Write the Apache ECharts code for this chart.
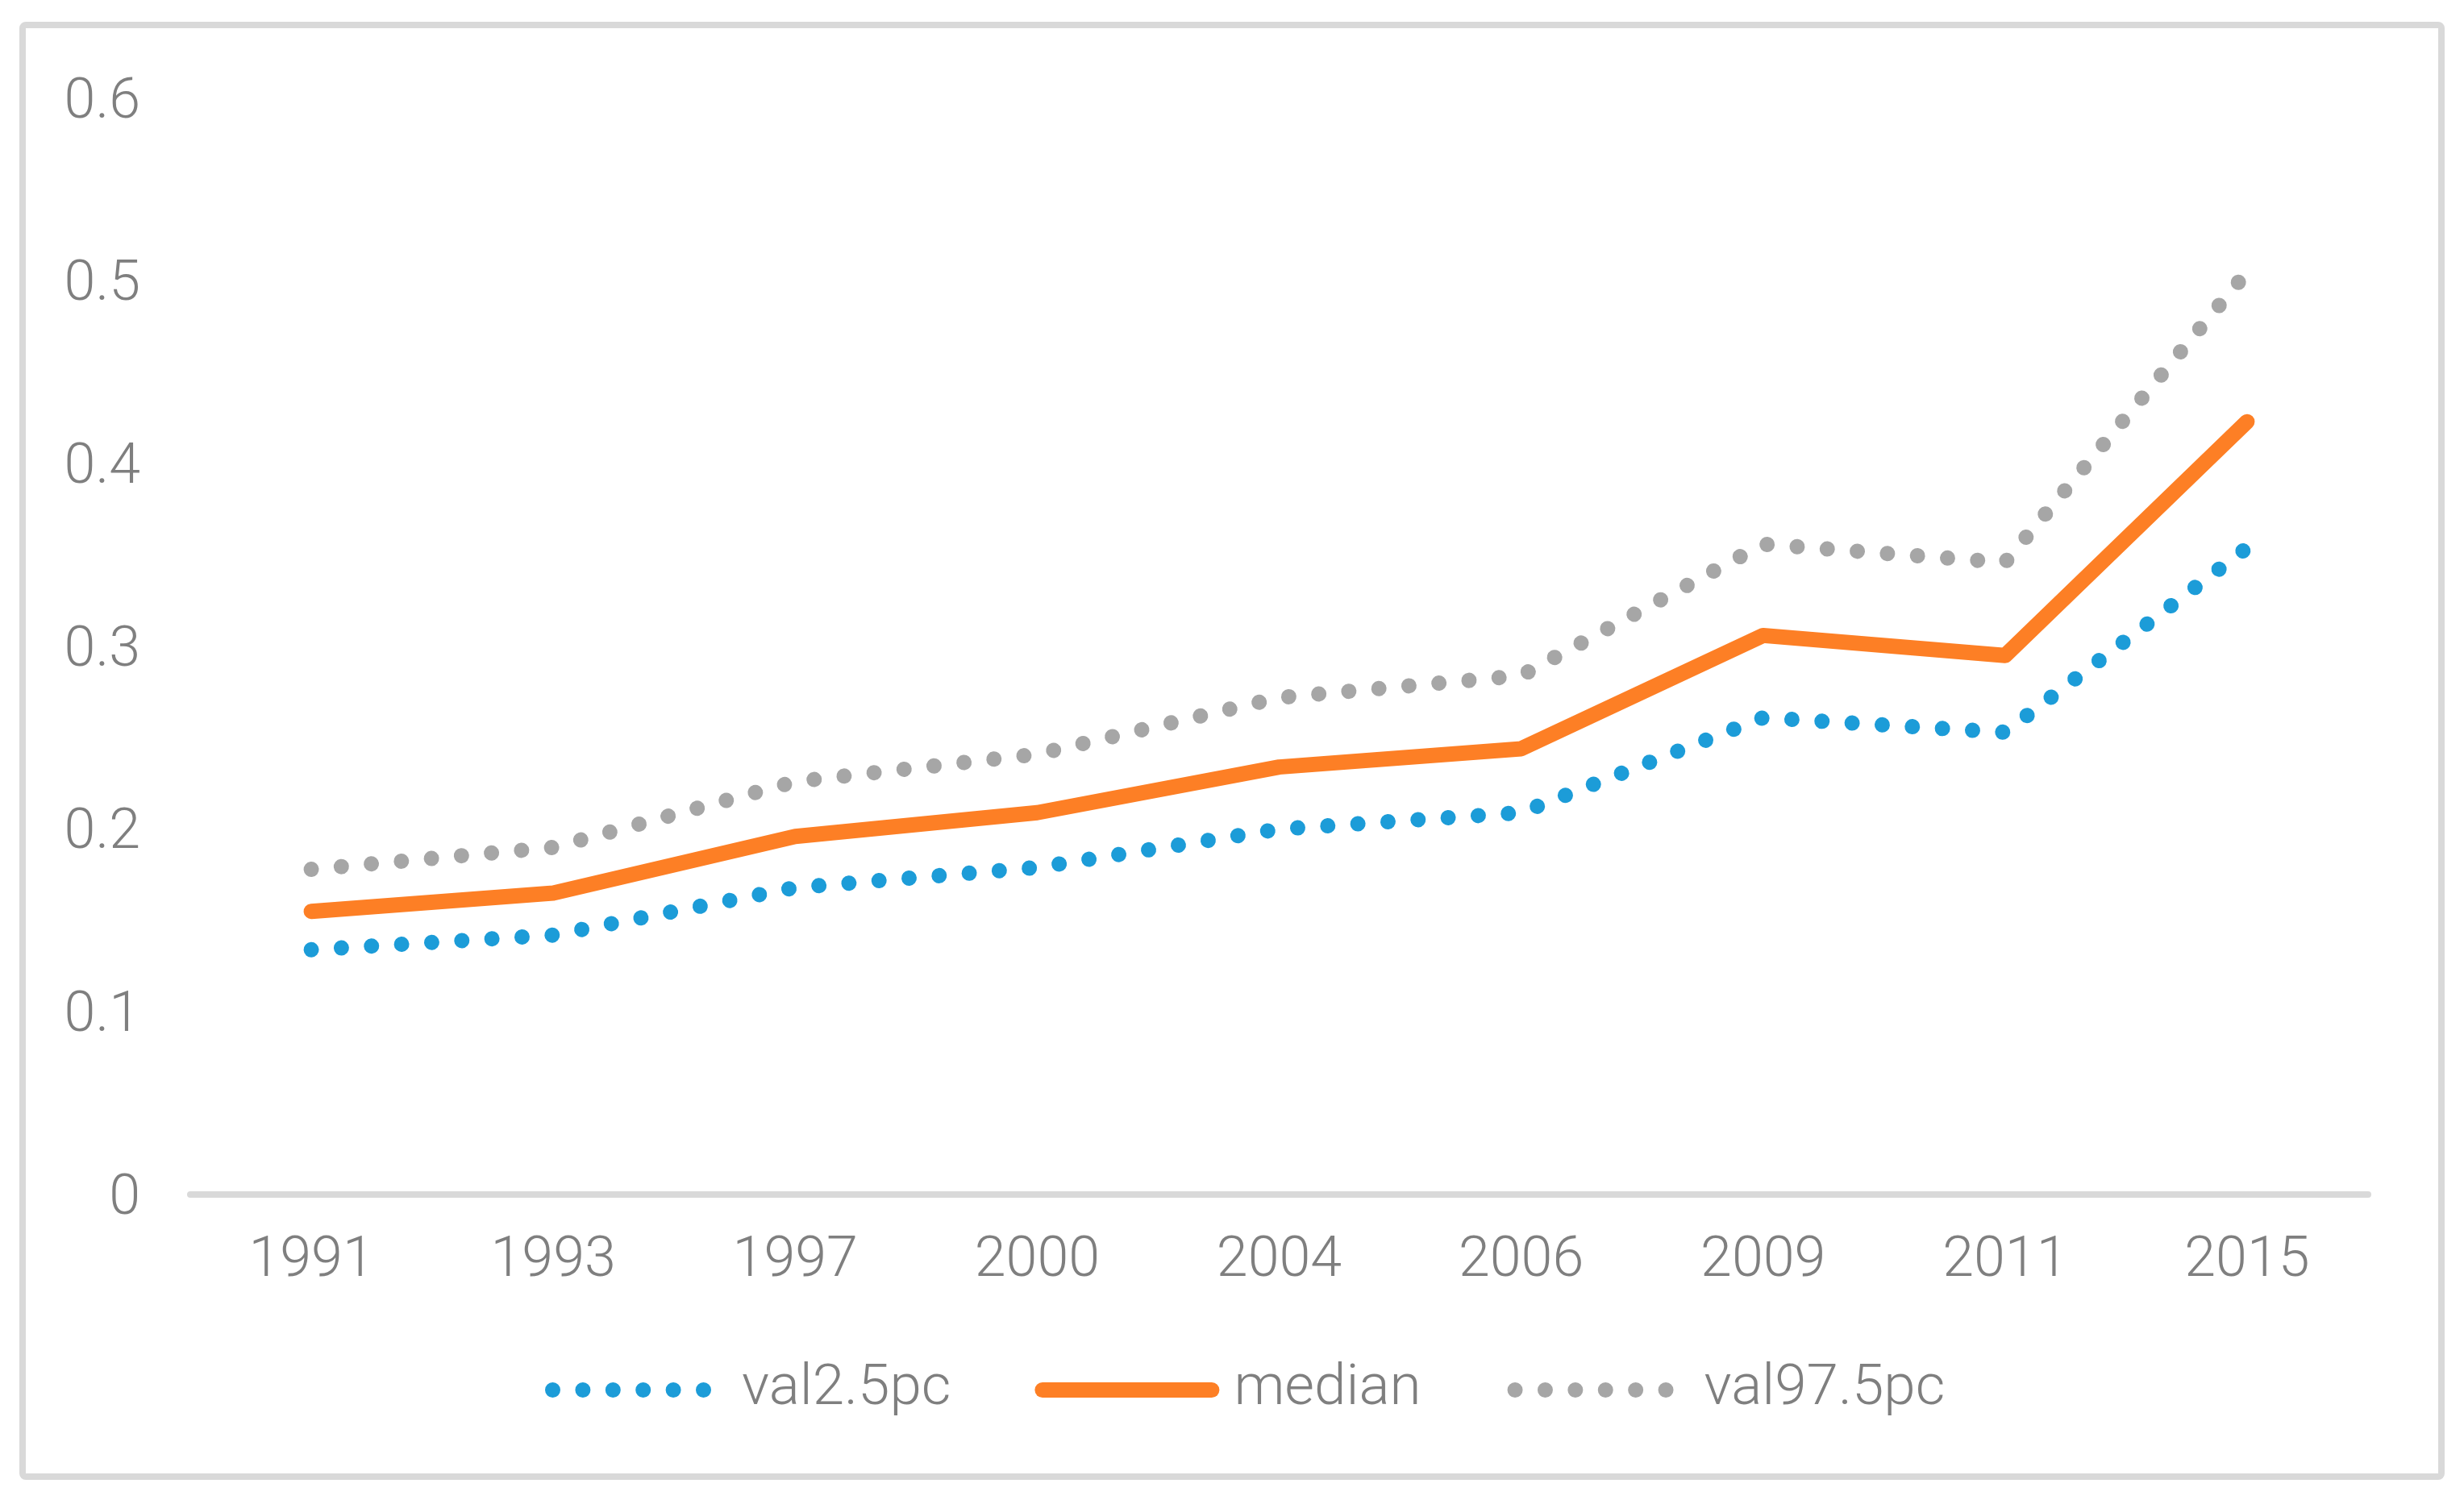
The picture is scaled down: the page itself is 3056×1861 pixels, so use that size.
<!DOCTYPE html>
<html>
<head>
<meta charset="utf-8">
<script src="https://cdn.jsdelivr.net/npm/echarts@6/dist/echarts.min.js"></script>
<style>
html,body{margin:0;padding:0;background:#fff;}
#chart{width:3056px;height:1861px;}
</style>
</head>
<body>
<div id="chart"></div>
<script>
var years = ['1991','1993','1997','2000','2004','2006','2009','2011','2015'];
var val25 = [0.134, 0.142, 0.168, 0.179, 0.200, 0.209, 0.261, 0.253, 0.354];
var median = [0.155, 0.165, 0.196, 0.209, 0.234, 0.244, 0.306, 0.295, 0.423];
var val975 = [0.178, 0.190, 0.226, 0.241, 0.272, 0.284, 0.356, 0.346, 0.505];
var yTicks = [0, 0.1, 0.2, 0.3, 0.4, 0.5, 0.6];

var FONT = 'Roboto';
var TXT = '#7f7f7f';
var WEIGHT = 300;

function dotsIcon() {
  var r = 9.5, p = 'path://M0 0 M242 19 ';
  for (var i = 0; i < 6; i++) {
    var cx = 12.5 + i * 37.4;
    p += 'M' + (cx - r) + ' 9.5 a' + r + ' ' + r + ' 0 1 0 ' + (2 * r) + ' 0 a' + r + ' ' + r + ' 0 1 0 ' + (-2 * r) + ' 0 Z ';
  }
  return p;
}
var barIcon = 'path://M0 0 M242 19 M9.5 0 L219.5 0 A9.5 9.5 0 0 1 219.5 19 L9.5 19 A9.5 9.5 0 0 1 9.5 0 Z';

var chart = echarts.init(document.getElementById('chart'));
chart.setOption({
  backgroundColor: '#fff',
  animation: false,
  graphic: [{
    type: 'rect',
    shape: {x: 28, y: 31, width: 3000, height: 1801, r: 4},
    style: {fill: 'none', stroke: '#d9d9d9', lineWidth: 8},
    silent: true
  }],
  grid: {left: 236, right: 119, top: 122, bottom: 379, containLabel: false},
  legend: {
    left: 673, top: 1689, padding: 0,
    itemWidth: 242, itemHeight: 19, itemGap: 104,
    itemStyle: {borderWidth: 0},
    textStyle: {fontFamily: FONT, fontWeight: WEIGHT, fontSize: 71, color: TXT},
    data: [
      {name: 'val2.5pc', icon: dotsIcon()},
      {name: 'median', icon: barIcon},
      {name: 'val97.5pc', icon: dotsIcon()}
    ]
  },
  xAxis: {
    type: 'category',
    data: years,
    boundaryGap: true,
    axisLine: {show: true, lineStyle: {color: '#d9d9d9', width: 8}},
    axisTick: {show: false},
    axisLabel: {interval: 0, margin: 48, fontFamily: FONT, fontWeight: WEIGHT, fontSize: 70, color: TXT},
    splitLine: {show: false}
  },
  yAxis: {
    type: 'value',
    min: 0, max: 0.6, interval: 0.1,
    axisLine: {show: false},
    axisTick: {show: false},
    splitLine: {show: false},
    axisLabel: {
      margin: 62, color: TXT,
      formatter: function (v) {
        for (var i = 0; i < yTicks.length; i++) {
          if (Math.abs(yTicks[i] - v) < 1e-9) return '{v|' + String(yTicks[i]) + '}';
        }
        return '';
      },
      rich: {
        v: {fontFamily: FONT, fontWeight: WEIGHT, fontSize: 70, color: TXT, padding: [12, 0, 0, 0]}
      }
    }
  },
  series: [
    {
      name: 'val2.5pc', type: 'line', data: val25, symbol: 'none', color: '#1c9cd8',
      lineStyle: {color: '#1c9cd8', width: 19, type: [0.01, 37.4], cap: 'round', join: 'round'}
    },
    {
      name: 'median', type: 'line', data: median, symbol: 'none', color: '#fd7f25',
      lineStyle: {color: '#fd7f25', width: 19, type: 'solid', cap: 'round', join: 'round'}
    },
    {
      name: 'val97.5pc', type: 'line', data: val975, symbol: 'none', color: '#a6a6a6',
      lineStyle: {color: '#a6a6a6', width: 19, type: [0.01, 37.4], cap: 'round', join: 'round'}
    }
  ]
});
</script>
</body>
</html>
